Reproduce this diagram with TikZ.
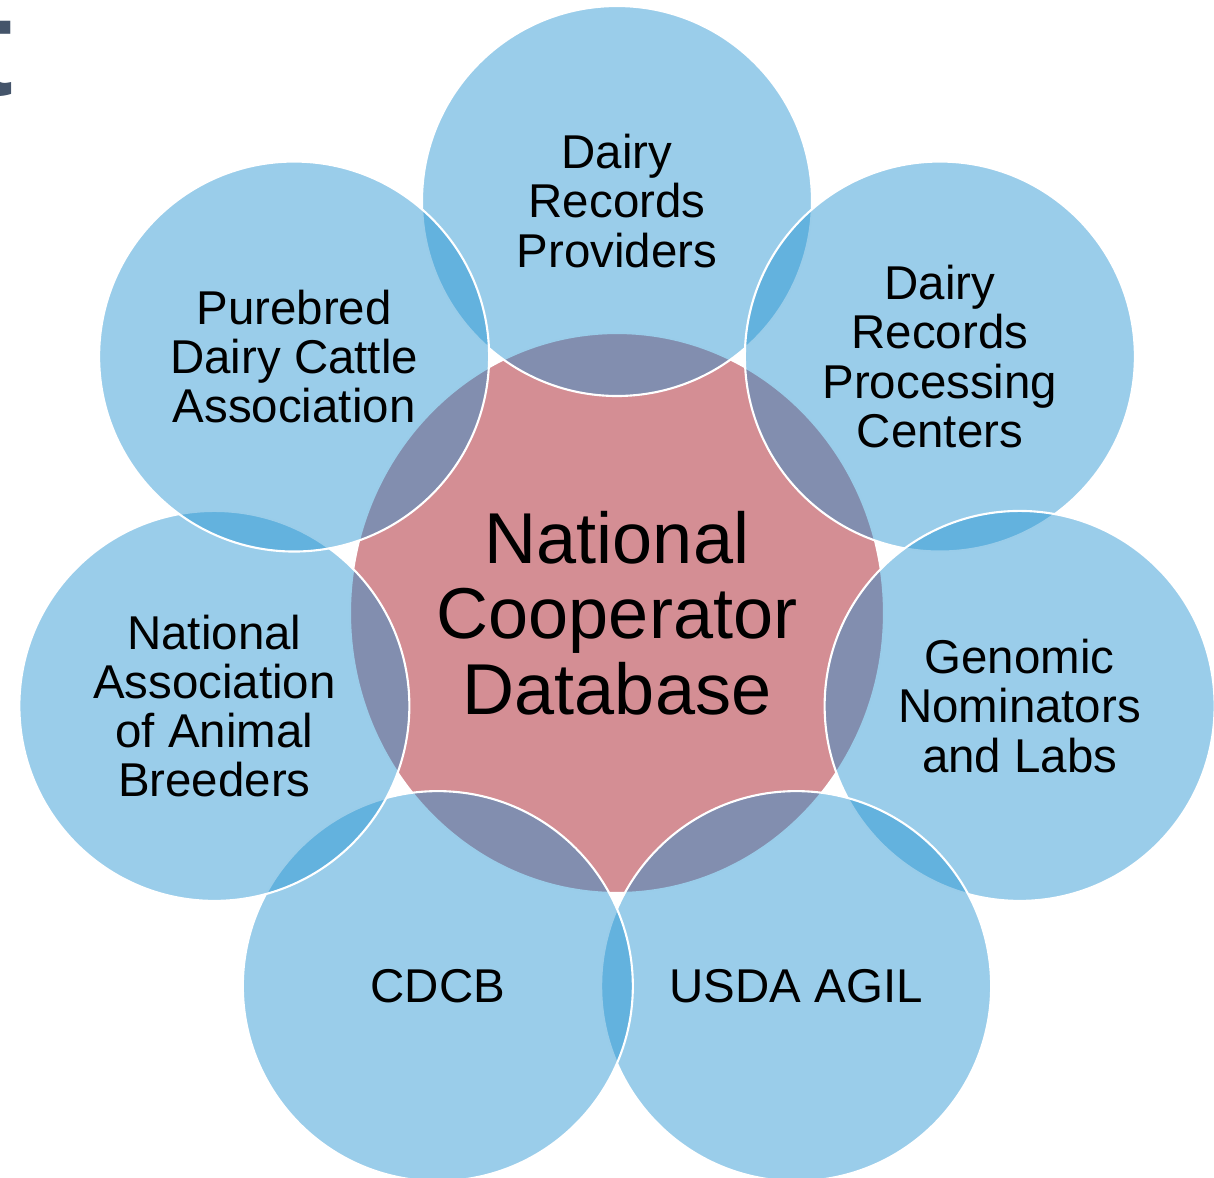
\documentclass[tikz,border=0pt]{standalone}
\usepackage{fontspec}
\setmainfont{Liberation Sans}
\usepackage{tikz}
\usetikzlibrary{shapes.geometric}
\definecolor{ringblue}{RGB}{31,144,208}
\definecolor{hubpink}{RGB}{212,142,148}
\definecolor{titleslate}{RGB}{68,84,106}

\begin{document}
\begin{tikzpicture}[
    hub/.style={ellipse, minimum width=10.68cm, minimum height=11.2cm, inner sep=0pt,
                fill=hubpink, draw=white, line width=1.2pt, align=center,
                font=\fontsize{41}{43}\selectfont},
    member/.style={circle, minimum size=7.8cm, inner sep=0pt,
                   fill=ringblue, fill opacity=0.45, text opacity=1,
                   draw=white, line width=1.2pt, align=center,
                   font=\fontsize{27}{28}\selectfont}
  ]
                \useasboundingbox (-12.34,-11.26) rectangle (11.94,12.28);
                \clip (-12.34,-11.26) rectangle (11.94,12.28);

                % Cut-off title letter
                \node[titleslate, anchor=base east, inner sep=0pt, font=\fontsize{80}{80}\selectfont\bfseries] (title) at (-12.06,10.38) {t};

                % Hub
                \node[hub] (ncd) at (0,0.02) {National\\Cooperator\\Database};

                % Members, clockwise from the top
                \node[member] (drp)  at (90:8.26)      {Dairy\\Records\\Providers};
                \node[member] (drpc) at (38.57:8.26)   {Dairy\\Records\\Processing\\Centers};
                \node[member] (gnl)  at (-12.86:8.26)  {Genomic\\Nominators\\and Labs};
                \node[member] (agil) at (-64.29:8.26)  {USDA AGIL};
                \node[member] (cdcb) at (-115.71:8.26) {CDCB};
                \node[member] (naab) at (-167.14:8.26) {National\\Association\\of Animal\\Breeders};
                \node[member] (pdca) at (141.43:8.26)  {Purebred\\Dairy Cattle\\Association};
            \end{tikzpicture}
\end{document}
